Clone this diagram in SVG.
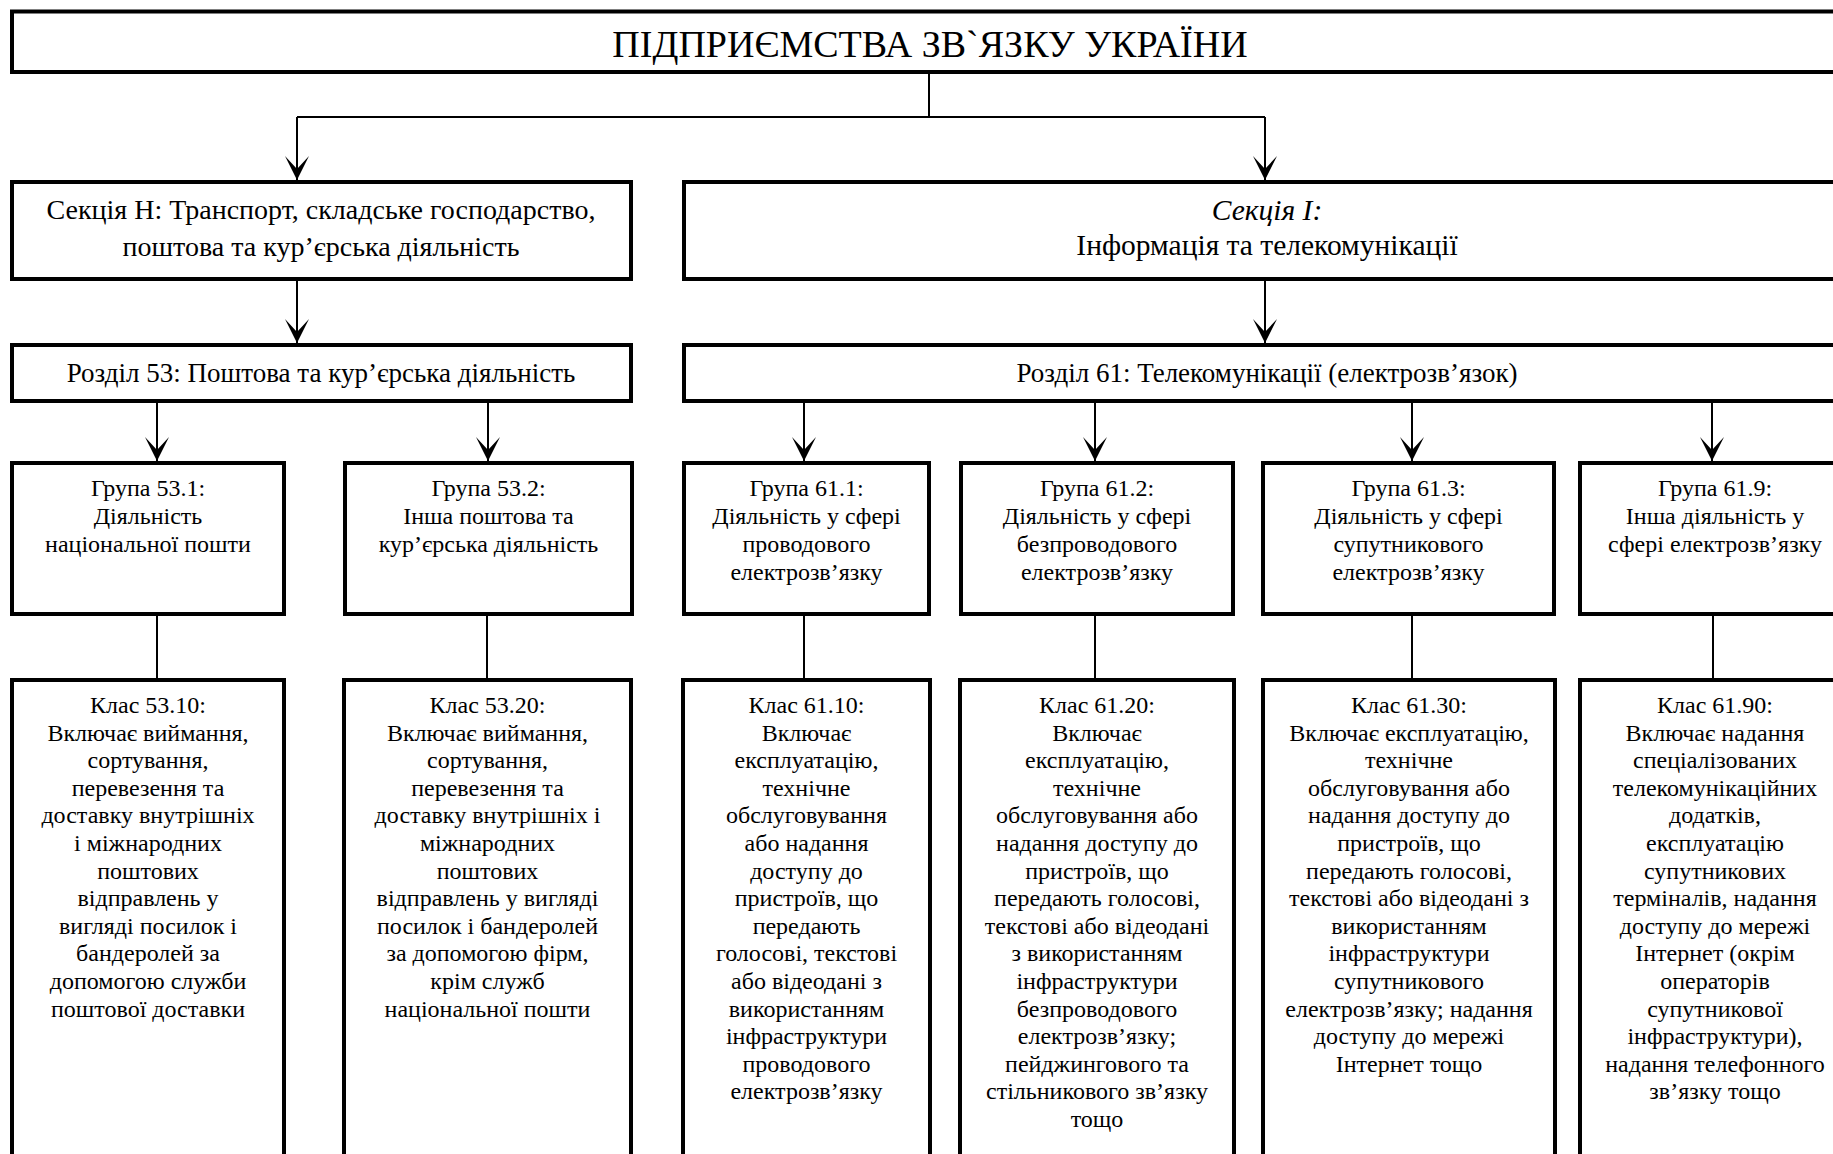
<svg xmlns="http://www.w3.org/2000/svg" width="1833" height="1154" viewBox="0 0 1833 1154">
<style>
.box{fill:#fff;stroke:#000;stroke-width:4}
.t{font-family:"Liberation Serif","Times New Roman",serif;font-size:24px;fill:#000;text-anchor:middle}
.title{font-size:38px}
.sec{font-size:28px}
.secI{font-size:29.5px}
.raz{font-size:27px}
.con{fill:none;stroke:#000;stroke-width:2}
.arr{marker-end:url(#ah)}
</style>
<defs>
<marker id="ah" markerUnits="userSpaceOnUse" viewBox="-26 -14 28 28" refX="0" refY="0" markerWidth="28" markerHeight="28" orient="auto">
<path d="M0,0 L-24,-12 L-11,0 L-24,12 Z" fill="#000"/>
</marker>
</defs>
<rect width="1833" height="1154" fill="#fff"/>

<g id="connectors">
<path class="con" d="M929,72 V117 M297,117 H1265"/>
<path class="con arr" d="M297,117 V180"/>
<path class="con arr" d="M1265,117 V180"/>
<path class="con arr" d="M297,281 V343"/>
<path class="con arr" d="M1265,281 V343"/>
<path class="con arr" d="M157,403 V461"/>
<path class="con arr" d="M488,403 V461"/>
<path class="con arr" d="M804,403 V461"/>
<path class="con arr" d="M1095,403 V461"/>
<path class="con arr" d="M1412,403 V461"/>
<path class="con arr" d="M1712,403 V461"/>
<path class="con" d="M157,616 V678 M487,616 V678 M804,616 V678 M1095,616 V678 M1412,616 V678 M1713,616 V678"/>
</g>

<g id="root">
<rect class="box" x="12" y="11.5" width="1840" height="60.5"/>
<text class="t title" x="930" y="57">ПІДПРИЄМСТВА ЗВ`ЯЗКУ УКРАЇНИ</text>
</g>

<g id="sectionH">
<rect class="box" x="12" y="182" width="619" height="97"/>
<text class="t sec" x="321" y="219">Секція Н: Транспорт, складське господарство,</text>
<text class="t sec" x="321" y="256">поштова та кур’єрська діяльність</text>
</g>

<g id="sectionI">
<rect class="box" x="684" y="182" width="1168" height="97"/>
<text class="t secI" x="1267" y="220"><tspan font-style="italic">Секція І:</tspan></text>
<text class="t secI" x="1267" y="255">Інформація та телекомунікації</text>
</g>

<g id="razdil53">
<rect class="box" x="12" y="345" width="619" height="56"/>
<text class="t raz" x="321" y="382">Розділ 53: Поштова та кур’єрська діяльність</text>
</g>

<g id="razdil61">
<rect class="box" x="684" y="345" width="1168" height="56"/>
<text class="t raz" x="1267" y="382">Розділ 61: Телекомунікації (електрозв’язок)</text>
</g>

<g id="group531">
<rect class="box" x="12" y="463" width="272" height="151"/>
<text class="t" y="496"><tspan x="148">Група 53.1:</tspan><tspan x="148" dy="28">Діяльність</tspan><tspan x="148" dy="28">національної пошти</tspan></text>
</g>

<g id="group532">
<rect class="box" x="345" y="463" width="287" height="151"/>
<text class="t" y="496"><tspan x="488.5">Група 53.2:</tspan><tspan x="488.5" dy="28">Інша поштова та</tspan><tspan x="488.5" dy="28">кур’єрська діяльність</tspan></text>
</g>

<g id="group611">
<rect class="box" x="684" y="463" width="245" height="151"/>
<text class="t" y="496"><tspan x="806.5">Група 61.1:</tspan><tspan x="806.5" dy="28">Діяльність у сфері</tspan><tspan x="806.5" dy="28">проводового</tspan><tspan x="806.5" dy="28">електрозв’язку</tspan></text>
</g>

<g id="group612">
<rect class="box" x="961" y="463" width="272" height="151"/>
<text class="t" y="496"><tspan x="1097">Група 61.2:</tspan><tspan x="1097" dy="28">Діяльність у сфері</tspan><tspan x="1097" dy="28">безпроводового</tspan><tspan x="1097" dy="28">електрозв’язку</tspan></text>
</g>

<g id="group613">
<rect class="box" x="1263" y="463" width="291" height="151"/>
<text class="t" y="496"><tspan x="1408.5">Група 61.3:</tspan><tspan x="1408.5" dy="28">Діяльність у сфері</tspan><tspan x="1408.5" dy="28">супутникового</tspan><tspan x="1408.5" dy="28">електрозв’язку</tspan></text>
</g>

<g id="group619">
<rect class="box" x="1580" y="463" width="272" height="151"/>
<text class="t" y="496"><tspan x="1715">Група 61.9:</tspan><tspan x="1715" dy="28">Інша діяльність у</tspan><tspan x="1715" dy="28">сфері електрозв’язку</tspan></text>
</g>

<g id="class5310">
<rect class="box" x="12" y="680" width="272" height="520"/>
<text class="t" y="713"><tspan x="148">Клас 53.10:</tspan><tspan x="148" dy="27.6">Включає виймання,</tspan><tspan x="148" dy="27.6">сортування,</tspan><tspan x="148" dy="27.6">перевезення та</tspan><tspan x="148" dy="27.6">доставку внутрішніх</tspan><tspan x="148" dy="27.6">і міжнародних</tspan><tspan x="148" dy="27.6">поштових</tspan><tspan x="148" dy="27.6">відправлень у</tspan><tspan x="148" dy="27.6">вигляді посилок і</tspan><tspan x="148" dy="27.6">бандеролей за</tspan><tspan x="148" dy="27.6">допомогою служби</tspan><tspan x="148" dy="27.6">поштової доставки</tspan></text>
</g>

<g id="class5320">
<rect class="box" x="344" y="680" width="287" height="520"/>
<text class="t" y="713"><tspan x="487.5">Клас 53.20:</tspan><tspan x="487.5" dy="27.6">Включає виймання,</tspan><tspan x="487.5" dy="27.6">сортування,</tspan><tspan x="487.5" dy="27.6">перевезення та</tspan><tspan x="487.5" dy="27.6">доставку внутрішніх і</tspan><tspan x="487.5" dy="27.6">міжнародних</tspan><tspan x="487.5" dy="27.6">поштових</tspan><tspan x="487.5" dy="27.6">відправлень у вигляді</tspan><tspan x="487.5" dy="27.6">посилок і бандеролей</tspan><tspan x="487.5" dy="27.6">за допомогою фірм,</tspan><tspan x="487.5" dy="27.6">крім служб</tspan><tspan x="487.5" dy="27.6">національної пошти</tspan></text>
</g>

<g id="class6110">
<rect class="box" x="683" y="680" width="247" height="520"/>
<text class="t" y="713"><tspan x="806.5">Клас 61.10:</tspan><tspan x="806.5" dy="27.6">Включає</tspan><tspan x="806.5" dy="27.6">експлуатацію,</tspan><tspan x="806.5" dy="27.6">технічне</tspan><tspan x="806.5" dy="27.6">обслуговування</tspan><tspan x="806.5" dy="27.6">або надання</tspan><tspan x="806.5" dy="27.6">доступу до</tspan><tspan x="806.5" dy="27.6">пристроїв, що</tspan><tspan x="806.5" dy="27.6">передають</tspan><tspan x="806.5" dy="27.6">голосові, текстові</tspan><tspan x="806.5" dy="27.6">або відеодані з</tspan><tspan x="806.5" dy="27.6">використанням</tspan><tspan x="806.5" dy="27.6">інфраструктури</tspan><tspan x="806.5" dy="27.6">проводового</tspan><tspan x="806.5" dy="27.6">електрозв’язку</tspan></text>
</g>

<g id="class6120">
<rect class="box" x="960" y="680" width="274" height="520"/>
<text class="t" y="713"><tspan x="1097">Клас 61.20:</tspan><tspan x="1097" dy="27.6">Включає</tspan><tspan x="1097" dy="27.6">експлуатацію,</tspan><tspan x="1097" dy="27.6">технічне</tspan><tspan x="1097" dy="27.6">обслуговування або</tspan><tspan x="1097" dy="27.6">надання доступу до</tspan><tspan x="1097" dy="27.6">пристроїв, що</tspan><tspan x="1097" dy="27.6">передають голосові,</tspan><tspan x="1097" dy="27.6">текстові або відеодані</tspan><tspan x="1097" dy="27.6">з використанням</tspan><tspan x="1097" dy="27.6">інфраструктури</tspan><tspan x="1097" dy="27.6">безпроводового</tspan><tspan x="1097" dy="27.6">електрозв’язку;</tspan><tspan x="1097" dy="27.6">пейджингового та</tspan><tspan x="1097" dy="27.6">стільникового зв’язку</tspan><tspan x="1097" dy="27.6">тощо</tspan></text>
</g>

<g id="class6130">
<rect class="box" x="1263" y="680" width="292" height="520"/>
<text class="t" y="713"><tspan x="1409">Клас 61.30:</tspan><tspan x="1409" dy="27.6">Включає експлуатацію,</tspan><tspan x="1409" dy="27.6">технічне</tspan><tspan x="1409" dy="27.6">обслуговування або</tspan><tspan x="1409" dy="27.6">надання доступу до</tspan><tspan x="1409" dy="27.6">пристроїв, що</tspan><tspan x="1409" dy="27.6">передають голосові,</tspan><tspan x="1409" dy="27.6">текстові або відеодані з</tspan><tspan x="1409" dy="27.6">використанням</tspan><tspan x="1409" dy="27.6">інфраструктури</tspan><tspan x="1409" dy="27.6">супутникового</tspan><tspan x="1409" dy="27.6">електрозв’язку; надання</tspan><tspan x="1409" dy="27.6">доступу до мережі</tspan><tspan x="1409" dy="27.6">Інтернет тощо</tspan></text>
</g>

<g id="class6190">
<rect class="box" x="1580" y="680" width="272" height="520"/>
<text class="t" y="713"><tspan x="1715">Клас 61.90:</tspan><tspan x="1715" dy="27.6">Включає надання</tspan><tspan x="1715" dy="27.6">спеціалізованих</tspan><tspan x="1715" dy="27.6">телекомунікаційних</tspan><tspan x="1715" dy="27.6">додатків,</tspan><tspan x="1715" dy="27.6">експлуатацію</tspan><tspan x="1715" dy="27.6">супутникових</tspan><tspan x="1715" dy="27.6">терміналів, надання</tspan><tspan x="1715" dy="27.6">доступу до мережі</tspan><tspan x="1715" dy="27.6">Інтернет (окрім</tspan><tspan x="1715" dy="27.6">операторів</tspan><tspan x="1715" dy="27.6">супутникової</tspan><tspan x="1715" dy="27.6">інфраструктури),</tspan><tspan x="1715" dy="27.6">надання телефонного</tspan><tspan x="1715" dy="27.6">зв’язку тощо</tspan></text>
</g>
</svg>
